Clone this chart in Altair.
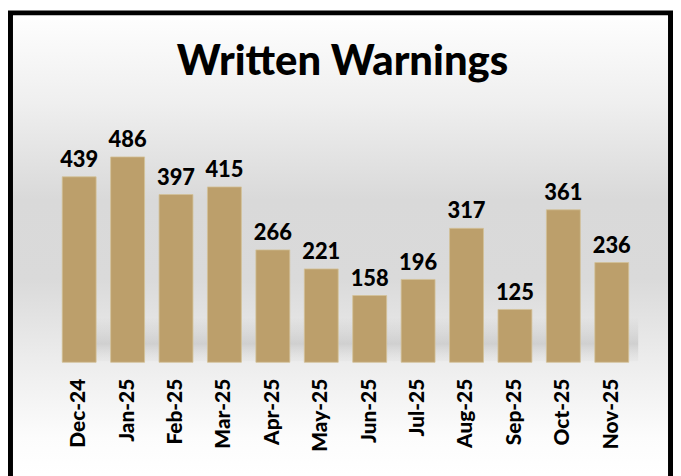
import altair as alt
import pandas as pd

months = ["Dec-24", "Jan-25", "Feb-25", "Mar-25", "Apr-25", "May-25",
          "Jun-25", "Jul-25", "Aug-25", "Sep-25", "Oct-25", "Nov-25"]
values = [439, 486, 397, 415, 266, 221, 158, 196, 317, 125, 361, 236]
title_text = ["Written Warnings"]

W, H = 585, 255
PL, PT, PR, PB = 47, 100, 37, 113

df = pd.DataFrame({"month": months, "value": values})
one = pd.DataFrame({"k": [0]})

FONT = "Lato"
BAR = "#BC9F6B"

bg_grad = alt.LinearGradient(
    gradient="linear", x1=0, x2=0, y1=0, y2=1,
    stops=[
        alt.GradientStop(offset=0.0, color="#ffffff"),
        alt.GradientStop(offset=0.2, color="#efefef"),
        alt.GradientStop(offset=0.41, color="#d9d9d9"),
        alt.GradientStop(offset=0.58, color="#dadada"),
        alt.GradientStop(offset=0.75, color="#ececec"),
        alt.GradientStop(offset=0.92, color="#fcfcfc"),
        alt.GradientStop(offset=1.0, color="#ffffff"),
    ],
)

background = alt.Chart(one).mark_rect(fill=bg_grad).encode(
    x=alt.value(-PL), x2=alt.value(W + PR),
    y=alt.value(-PT), y2=alt.value(H + PB),
)

shadow_grad = alt.LinearGradient(
    gradient="linear", x1=0, x2=0, y1=0, y2=1,
    stops=[
        alt.GradientStop(offset=0.0, color="rgba(175,175,175,0)"),
        alt.GradientStop(offset=0.6, color="rgba(170,170,170,0.4)"),
        alt.GradientStop(offset=1.0, color="rgba(215,215,215,0.2)"),
    ],
)
shadow = alt.Chart(one).mark_rect(fill=shadow_grad).encode(
    x=alt.value(12), x2=alt.value(W + 2),
    y=alt.value(H - 45), y2=alt.value(H - 1),
)

xenc = alt.X(
    "month:N", sort=months, title=None,
    scale=alt.Scale(paddingInner=0.3, paddingOuter=0.155),
    axis=alt.Axis(labelAngle=-90, labelFont=FONT, labelFontSize=21,
                  labelFontWeight=900, labelColor="#000000",
                  labelPadding=16, ticks=False, domain=False, grid=False,
                  zindex=2),
)
yenc = alt.Y("value:Q", scale=alt.Scale(domain=[0, 600]), axis=None)

bars = alt.Chart(df).mark_bar(color=BAR, stroke="#d3c197", strokeWidth=0.8).encode(
    x=xenc, y=yenc,
)
labels = alt.Chart(df).mark_text(
    font=FONT, fontSize=22, fontWeight=900, color="#000000",
    baseline="alphabetic", dy=-10,
).encode(x=xenc, y=yenc, text="value:Q")

title_df = pd.DataFrame({"t": title_text})
title = alt.Chart(title_df).mark_text(
    font=FONT, fontSize=42, fontWeight=900, color="#000000",
    baseline="alphabetic", align="center",
).encode(x=alt.value(W / 2 - 3), y=alt.value(-34), text="t:N")

border = alt.Chart(one).mark_rect(fill=None, stroke="#000000", strokeWidth=5).encode(
    x=alt.value(-PL + 2.5), x2=alt.value(W + PR - 2.5),
    y=alt.value(-PT + 3.5), y2=alt.value(H + PB + 40),
)

chart = alt.layer(background, shadow, bars, labels, title, border).properties(
    width=W, height=H,
    padding={"left": PL, "top": PT, "right": PR, "bottom": PB},
    autosize=alt.AutoSizeParams(type="none"),
    background="#ffffff",
).configure_view(stroke=None)

chart.save("out.html", embed_options={"renderer": "svg", "actions": False})
